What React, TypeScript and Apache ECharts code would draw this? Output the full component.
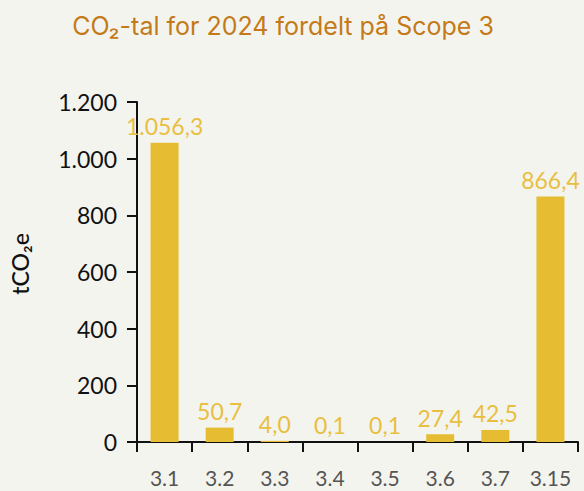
import React, { useEffect, useRef } from "react";
import * as echarts from "echarts";

const categories = ["3.1", "3.2", "3.3", "3.4", "3.5", "3.6", "3.7", "3.15"];
const values = [1056.3, 50.7, 4.0, 0.1, 0.1, 27.4, 42.5, 866.4];
const yTicks = { min: 0, max: 1200, interval: 200 };

const fmtThousands = (v: number) =>
  String(Math.round(v)).replace(/\B(?=(\d{3})+(?!\d))/g, ".");
const fmtValue = (v: number) => {
  const [i, d] = v.toFixed(1).split(".");
  return i.replace(/\B(?=(\d{3})+(?!\d))/g, ".") + "," + d;
};

export default function App() {
  const ref = useRef<HTMLDivElement>(null);
  useEffect(() => {
    if (!ref.current) return;
    const chart = echarts.init(ref.current, undefined, { renderer: "svg" });
    chart.setOption({
      animation: false,
      backgroundColor: "#F4F4EF",
      title: {
        text: "CO₂-tal for 2024 fordelt på Scope 3",
        left: 278,
        textAlign: "center",
        top: 8,
        textStyle: {
          color: "#C47A18",
          fontSize: 25,
          fontWeight: 400,
          fontFamily: "Inter",
        },
      },
      grid: { left: 135, right: 6, top: 102, bottom: 49 },
      xAxis: {
        type: "category",
        data: categories,
        axisLine: { lineStyle: { color: "#111", width: 2 } },
        axisTick: { show: true, length: 10, lineStyle: { color: "#111", width: 2 } },
        axisLabel: {
          interval: 0,
          color: "#555",
          fontSize: 21,
          margin: 25,
          fontFamily: "Lato",
        },
      },
      yAxis: {
        type: "value",
        min: yTicks.min,
        max: yTicks.max,
        interval: yTicks.interval,
        name: "tCO₂e",
        nameLocation: "middle",
        nameGap: 106,
        nameTextStyle: {
          color: "#111",
          fontSize: 23,
          fontWeight: 500,
          fontFamily: "Lato",
          padding: [0, 0, 0, 16],
        },
        axisLine: { show: true, lineStyle: { color: "#111", width: 2 } },
        axisTick: { show: true, length: 10, lineStyle: { color: "#111", width: 2 } },
        splitLine: { show: false },
        axisLabel: {
          color: "#111",
          fontSize: 23,
          margin: 20,
          fontFamily: "Lato",
          formatter: (v: number) => fmtThousands(v),
        },
      },
      series: [
        {
          type: "bar",
          data: values,
          barWidth: 28,
          itemStyle: { color: "#E6BC33" },
          label: {
            show: true,
            position: "top",
            distance: 5,
            color: "#E8BF40",
            fontSize: 23,
            fontFamily: "Lato",
            formatter: (p: any) => fmtValue(p.value),
          },
        },
      ],
    });
    return () => chart.dispose();
  }, []);
  return (
    <div
      ref={ref}
      style={{ position: "fixed", left: 0, top: 0, width: 584, height: 491 }}
    />
  );
}
